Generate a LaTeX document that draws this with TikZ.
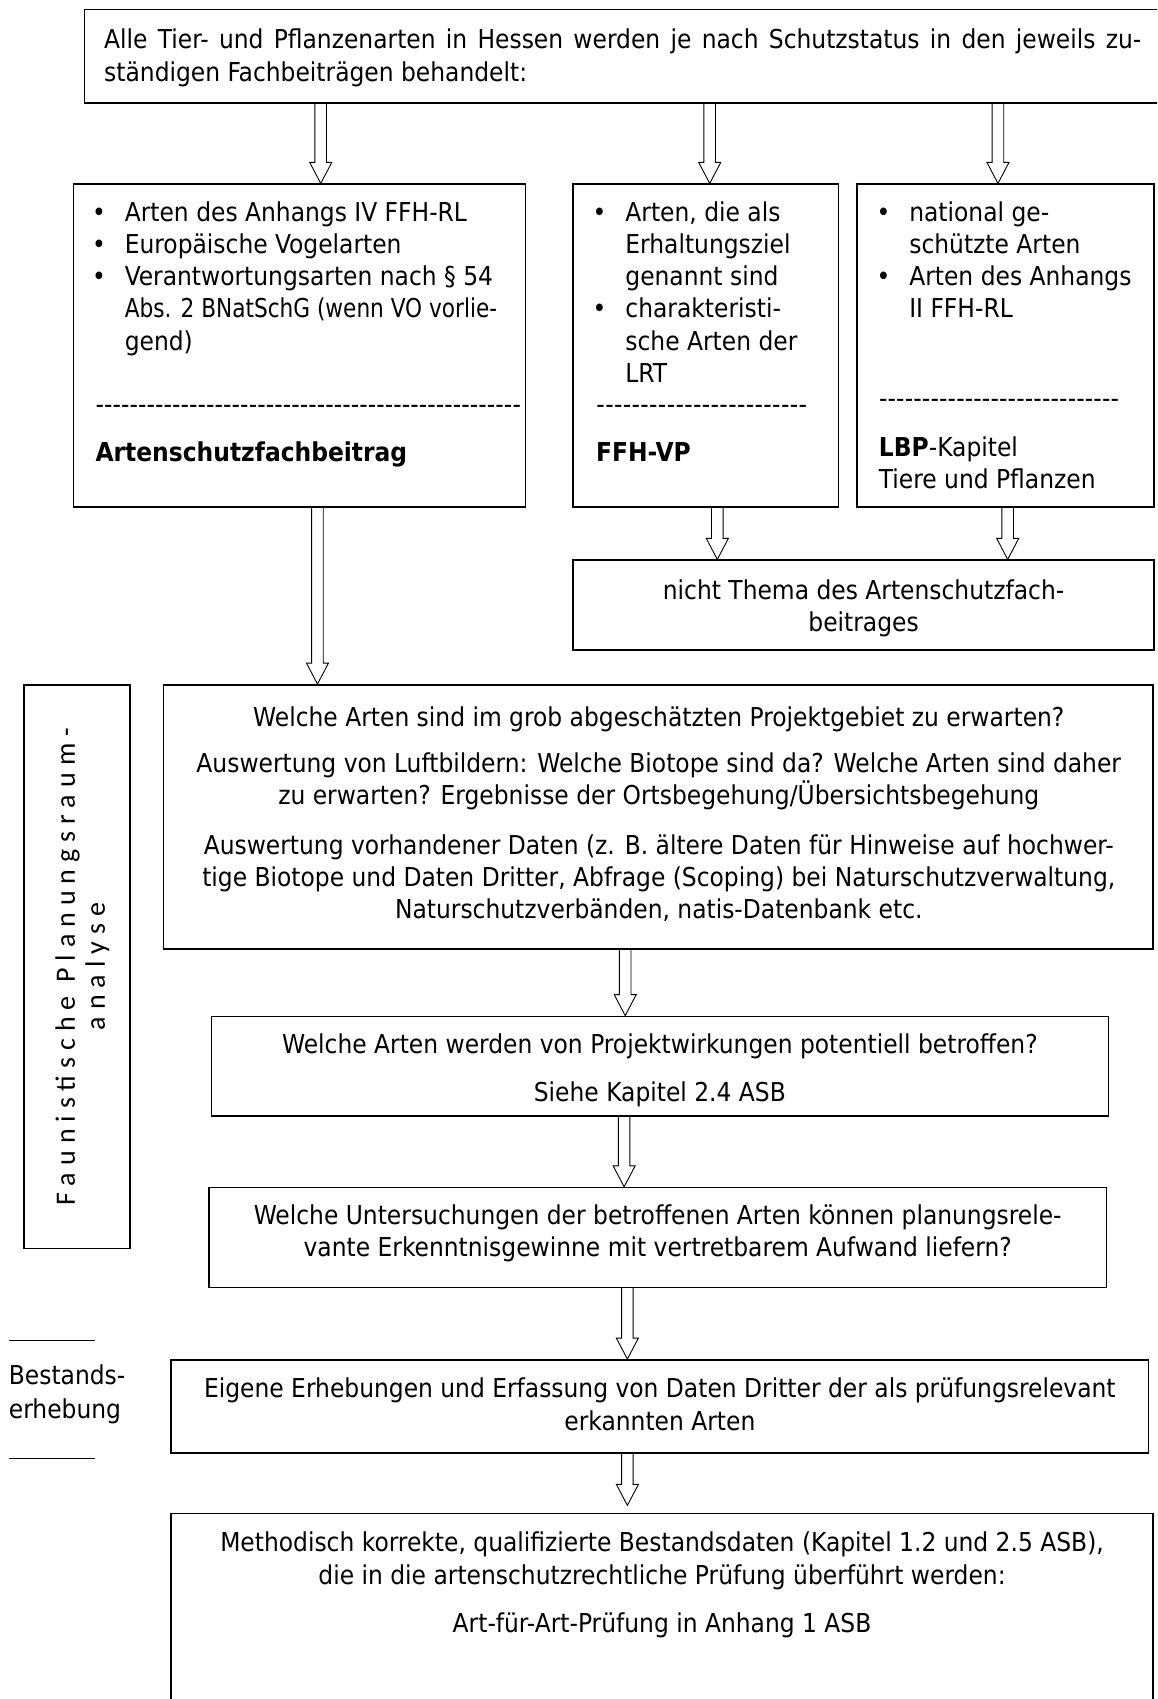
\documentclass[tikz,border=0pt]{standalone}
\usepackage{graphicx}
\usepackage{fontspec}
\setmainfont{DejaVu Sans Condensed}
\newfontfamily\vfont[LetterSpace=25]{Carlito}
\usetikzlibrary{calc,fit}
\newcommand\mainfs{\fontsize{26}{32.2}\selectfont}
\newcommand\st{\rule{0pt}{28pt}}
\newcommand\bul{\llap{\textbullet\hspace{19pt}}}
\newcommand\dashrule[1]{\makebox[#1pt][l]{\xleaders\hbox{-}\hfill}}
\tikzset{
  box/.style={draw, line width=1.5pt, inner sep=0pt},
  mlw/.style={inner sep=0pt, anchor=north west, align=left, yshift=28pt, font=\mainfs},
  mlc/.style={inner sep=0pt, anchor=north, align=center, yshift=28pt, font=\mainfs},
  harrow/.style={draw, line width=0.9pt, to path={let \p1=(\tikztostart), \p2=(\tikztotarget) in
    ({\x1-5.8pt},\y1) -- ({\x1-5.8pt},{\y2+21pt}) -- ({\x1-11pt},{\y2+21pt}) -- (\x1,\y2)
    -- ({\x1+11pt},{\y2+21pt}) -- ({\x1+5.8pt},{\y2+21pt}) -- ({\x1+5.8pt},\y1)}}
}
\begin{document}
\begin{tikzpicture}[x=1.08333pt, y=-1.08333pt]
\useasboundingbox (0,0) rectangle (1068,1568);
\clip (0,0) rectangle (1068,1568);
% boxes
\node[box, fit={(78,9) (1200,95)}] (top) {};
\node[box, fit={(68,170) (485,468)}] (A) {};
\node[box, fit={(529,170) (774,468)}] (B) {};
\node[box, fit={(791,170) (1065,468)}] (C) {};
\node[box, fit={(529,517) (1065,600)}] (D) {};
\node[box, fit={(22,632) (120,1152)}] (V) {};
\node[box, fit={(151,632) (1064,876)}] (E) {};
\node[box, fit={(195,938) (1023,1030)}] (F) {};
\node[box, fit={(193,1096) (1021,1188)}] (G) {};
\node[box, fit={(158,1255) (1060,1341)}] (H) {};
\node[box, fit={(158,1397) (1064,1620)}] (I) {};
% texts
\node[mlw] (ttop) at (96,45) {\st\makebox[1037pt][s]{Alle Tier- und Pflanzenarten in Hessen werden je nach Schutzstatus in den jeweils zu-}\\ständigen Fachbeiträgen behandelt:};
\node[mlw] (ta) at (115,204) {\st\bul Arten des Anhangs IV FFH-RL\\\bul Europäische Vogelarten\\\bul Verantwortungsarten nach § 54\\\scalebox{0.925}[1]{Abs. 2 BNatSchG (wenn VO vorlie-}\\gend)};
\node[mlw] (tad) at (88,381) {\st\dashrule{425}};
\node[mlw] (tab) at (88,426) {\st\bfseries Artenschutzfachbeitrag};
\node[mlw] (tb) at (577,204) {\st\bul Arten, die als\\Erhaltungsziel\\genannt sind\\\bul charakteristi-\\sche Arten der\\LRT};
\node[mlw] (tbd) at (550,381) {\st\dashrule{211}};
\node[mlw] (tbb) at (550,426) {\st\bfseries FFH-VP};
\node[mlw] (tc) at (839,204) {\st\bul national ge-\\schützte Arten\\\bul Arten des Anhangs\\II FFH-RL};
\node[mlw] (tcd) at (811,376) {\st\dashrule{240}};
\node[mlw] (tcb) at (811,421) {\st\textbf{LBP}-Kapitel\\Tiere und Pflanzen};
\node[mlc] (td) at (797,553) {\st nicht Thema des Artenschutzfach-\\beitrages};
\node[rotate=90, align=center, font={\vfont\fontsize{28}{30}\selectfont}, inner sep=0pt] (tv) at (76,892) {Faunistische Planungsraum-\\analyse};
\node[mlc] (te1) at (608,670) {\st Welche Arten sind im grob abgeschätzten Projektgebiet zu erwarten?};
\node[mlc] (te2) at (608,713) {\st Auswertung von Luftbildern: Welche Biotope sind da? Welche Arten sind daher\\zu erwarten? Ergebnisse der Ortsbegehung/Übersichtsbegehung};
\node[mlc] (te3) at (608,788) {\st Auswertung vorhandener Daten (z. B. ältere Daten für Hinweise auf hochwer-\\tige Biotope und Daten Dritter, Abfrage (Scoping) bei Naturschutzverwaltung,\\Naturschutzverbänden, natis-Datenbank etc.};
\node[mlc] (tf1) at (609,972) {\st Welche Arten werden von Projektwirkungen potentiell betroffen?};
\node[mlc] (tf2) at (609,1016) {\st Siehe Kapitel 2.4 ASB};
\node[mlc] (tg) at (607,1130) {\st Welche Untersuchungen der betroffenen Arten können planungsrele-\\vante Erkenntnisgewinne mit vertretbarem Aufwand liefern?};
\node[mlc] (th) at (609,1290) {\st Eigene Erhebungen und Erfassung von Daten Dritter der als prüfungsrelevant\\erkannten Arten};
\node[mlc] (ti1) at (611,1432) {\st Methodisch korrekte, qualifizierte Bestandsdaten (Kapitel 1.2 und 2.5 ASB),\\die in die artenschutzrechtliche Prüfung überführt werden:};
\node[mlc] (ti2) at (611,1506) {\st Art-für-Art-Prüfung in Anhang 1 ASB};
\node[mlw, font={\fontsize{26}{33.5}\selectfont}] (tbe) at (8,1278) {\st Bestands-\\erhebung};
\draw[line width=0.9pt] (8,1237) -- (88,1237);
\draw[line width=0.9pt] (8,1346) -- (88,1346);
% arrows
\draw[harrow] (296,0 |- top.south) to (296,0 |- A.north);
\draw[harrow] (655,0 |- top.south) to (655,0 |- B.north);
\draw[harrow] (921,0 |- top.south) to (921,0 |- C.north);
\draw[harrow] (662,0 |- B.south) to (662,0 |- D.north);
\draw[harrow] (930,0 |- C.south) to (930,0 |- D.north);
\draw[harrow] (293,0 |- A.south) to (293,0 |- E.north);
\draw[harrow] (577,0 |- E.south) to (577,0 |- F.north);
\draw[harrow] (576,0 |- F.south) to (576,0 |- G.north);
\draw[harrow] (579,0 |- G.south) to (579,0 |- H.north);
\draw[harrow] (579,0 |- H.south) to ($(579,0 |- I.north)+(0,-7)$);
\end{tikzpicture}
\end{document}
